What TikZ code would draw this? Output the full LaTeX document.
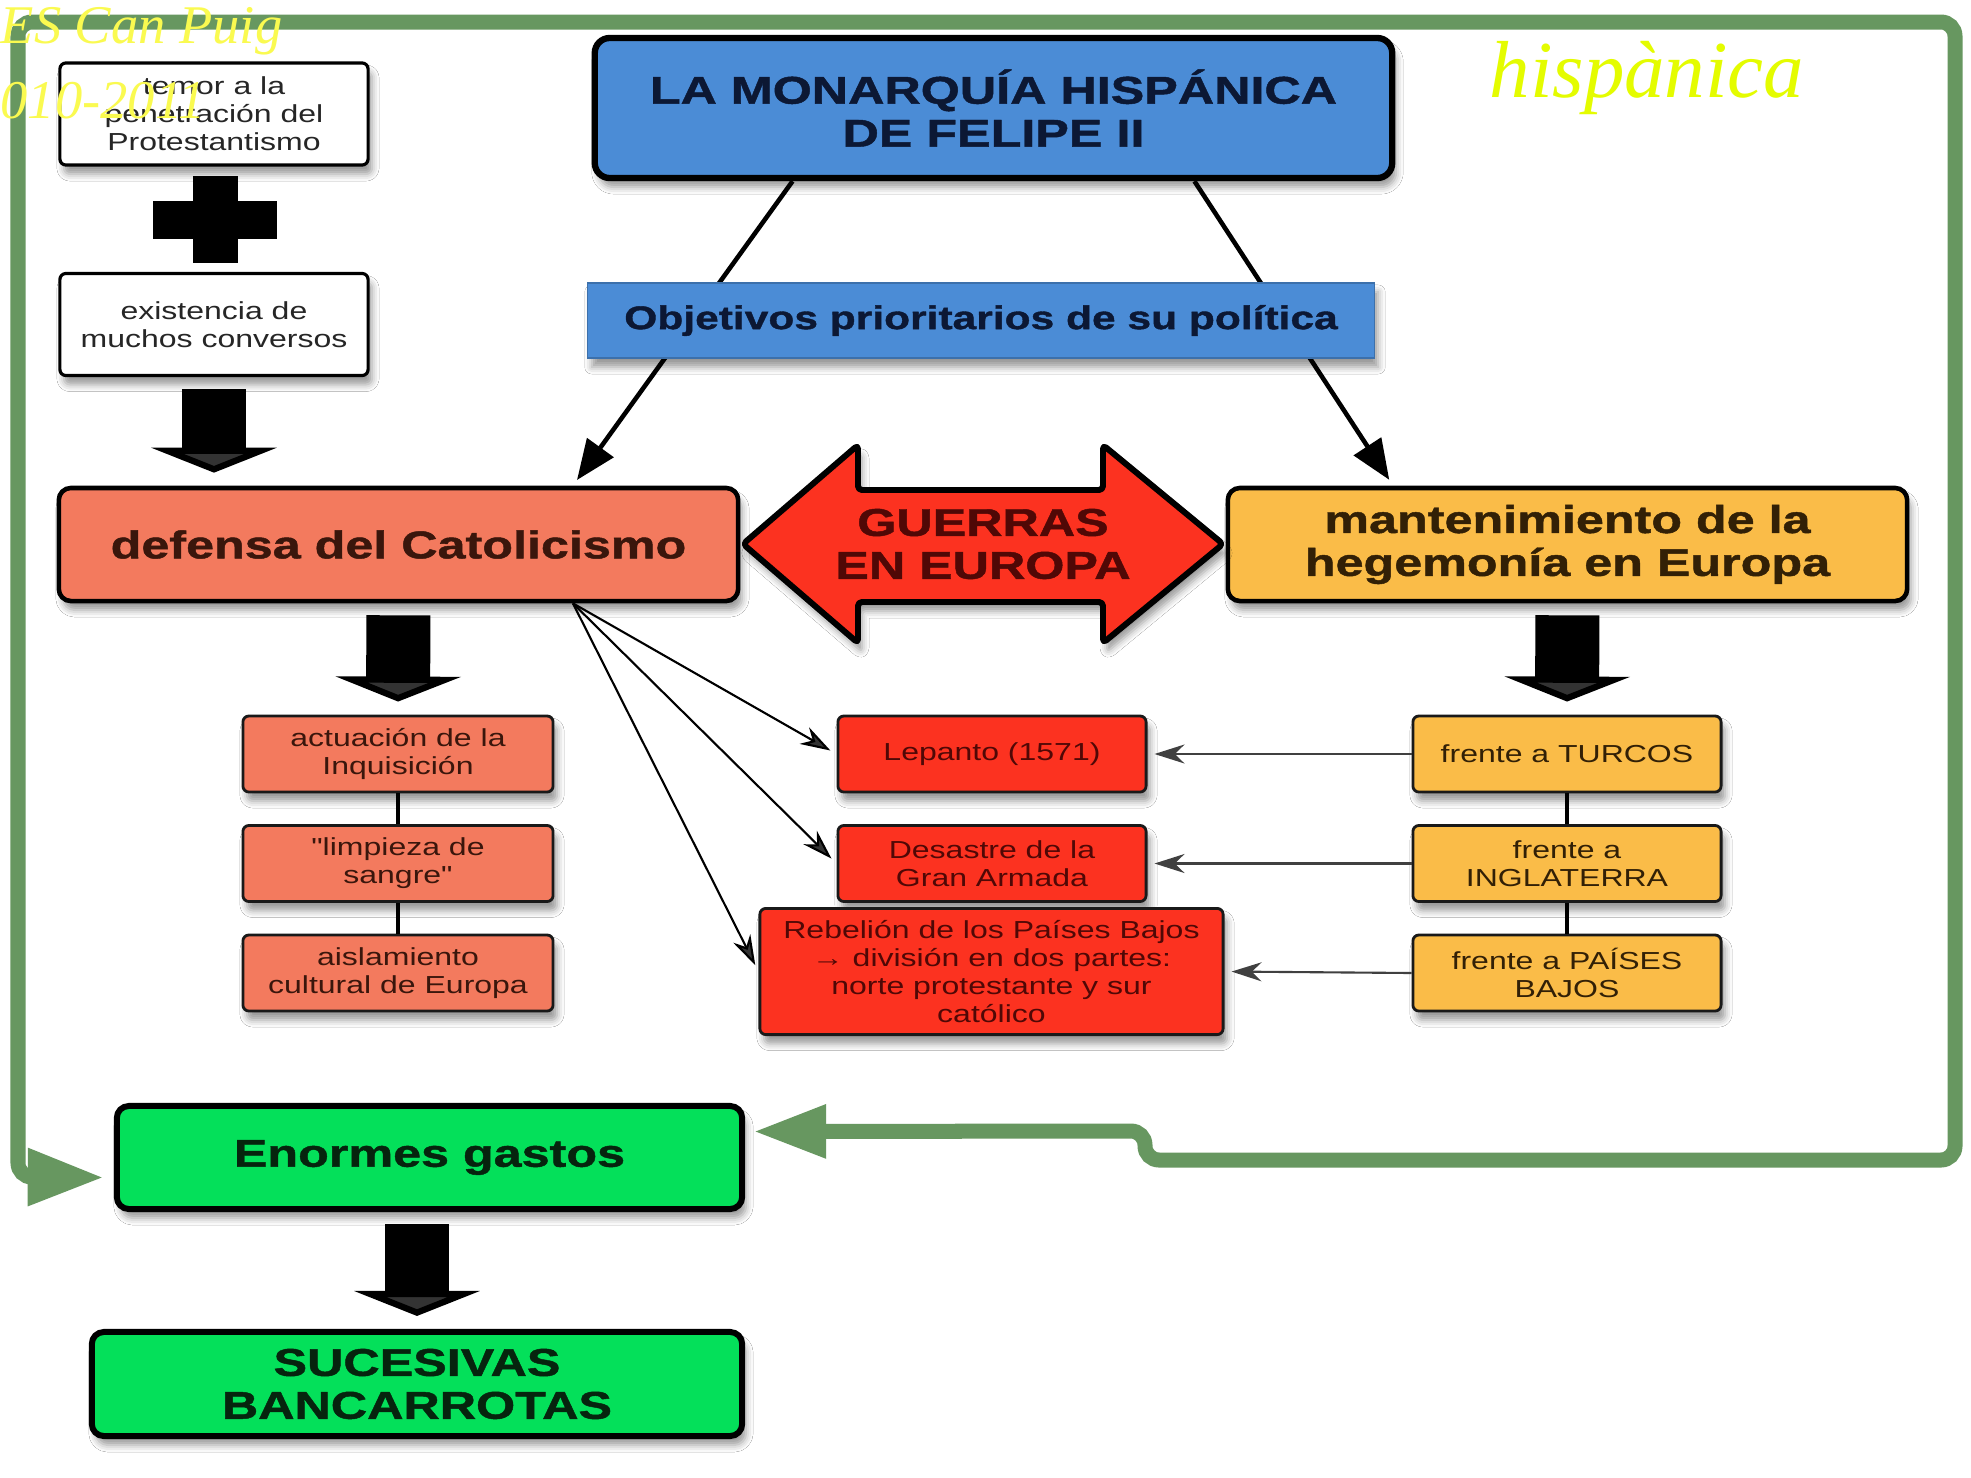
\documentclass[tikz,border=0pt]{standalone}
\usepackage{fontspec}
\newfontfamily\wideSans[FakeStretch=1.3, BoldFeatures={FakeBold=1.2}]{Liberation Sans}
\newfontfamily\stampSerif{Liberation Serif}
\usetikzlibrary{arrows.meta, calc, shadows.blur}
\tikzstyle{canvas} = [x = 0.01cm, y = -0.01cm]
\definecolor{loopGreen}{RGB}{103,151,96}
\definecolor{titleBlue}{RGB}{75,140,214}
\definecolor{salmonFill}{RGB}{243,122,94}
\definecolor{warRed}{RGB}{252,50,32}
\definecolor{hegemonyOrange}{RGB}{250,188,72}
\definecolor{costGreen}{RGB}{4,224,90}
\definecolor{stampYellow}{RGB}{250,250,80}
\definecolor{stampLime}{RGB}{228,252,0}
\definecolor{navyText}{RGB}{12,24,52}
\definecolor{maroonText}{RGB}{80,8,6}
\definecolor{brownText}{RGB}{58,22,12}
\definecolor{amberText}{RGB}{50,32,6}
\definecolor{greenText}{RGB}{6,36,14}
\tikzstyle{boxShadow} = [blur shadow={shadow xshift=0.4mm, shadow yshift=-0.9mm, shadow blur radius=0.7mm, shadow opacity=40}]
\tikzstyle{smallText} = [font=\wideSans\fontsize{7}{8}\selectfont, align=center]
\tikzstyle{bigText} = [font=\wideSans\bfseries\fontsize{11}{12.2}\selectfont, align=center]
\tikzstyle{noteBox} = [smallText, text=black!85, draw=black, line width=0.9pt, fill=white, rounded corners=0.6mm, minimum width=3.08cm, minimum height=1.02cm, boxShadow]
\tikzstyle{listBox} = [smallText, draw=black!90, line width=0.8pt, rounded corners=0.6mm, minimum width=3.1cm, minimum height=0.76cm, boxShadow]
\tikzstyle{mainBox} = [bigText, draw=black, line width=1.3pt, rounded corners=1.2mm, minimum width=6.79cm, minimum height=1.13cm, boxShadow]
\tikzstyle{titleBox} = [bigText, text=navyText, fill=titleBlue, draw=black, line width=1.8pt, rounded corners=1.5mm, minimum width=7.97cm, minimum height=1.4cm, boxShadow]
\tikzstyle{objectiveBox} = [font=\wideSans\bfseries\fontsize{9.3}{11}\selectfont, text=navyText, fill=titleBlue, draw=titleBlue!80!black, line width=0.4pt, minimum width=7.86cm, minimum height=0.75cm, boxShadow]
\tikzstyle{costBox} = [bigText, text=greenText, fill=costGreen, draw=black, line width=1.7pt, rounded corners=1.2mm, boxShadow]
\tikzstyle{warArrow} = [fill=warRed, draw=black, line width=1.7pt, rounded corners=0.4mm, line join=round, boxShadow]
\tikzstyle{blockArrow} = [line width=6.4mm, -{Triangle[length=2.5mm, width=12.5mm]}, shorten <= 1.2mm, shorten >= 1.3mm]
\tikzstyle{mainArrow} = [line width=1.3pt, -{Triangle[length=4mm, width=3.2mm]}, shorten >= 0.7mm]
\tikzstyle{thinArrow} = [line width=0.6pt, -{Stealth[length=3mm, width=1.9mm]}, shorten >= 0.7mm]
\tikzstyle{chainLine} = [line width=0.9pt]
\tikzstyle{loopLine} = [color=loopGreen, line width=1.5mm, rounded corners=1.4mm, {Triangle[length=7.3mm, width=5mm]}-{Triangle[length=7.6mm, width=5.4mm]}]
\tikzstyle{stampText} = [inner sep=0pt, anchor=base west]
\newcommand{\blockArrow}[2]{\draw [blockArrow] (#1) -- (#2);}
\newcommand{\plusSign}[2]{
  \fill (#1 - 22, #2 - 44) rectangle + (45, 87);
  \fill (#1 - 62, #2 - 19) rectangle + (124, 38);
}

\begin{document}
\begin{tikzpicture}[canvas]
  \fill [white] (0,0) rectangle (1971,1478);
  \useasboundingbox (0,0) rectangle (1971,1478);

  \node [noteBox] (temor) at (214,114) {temor a la\\penetración del\\Protestantismo};
  \plusSign{215}{220}
  \node [noteBox] (existencia) at (214,324.5) {existencia de\\muchos conversos};

  \node [titleBox] (monarquia) at (993.5,108) {LA MONARQUÍA HISPÁNICA\\DE FELIPE II};
  \node [mainBox, fill=salmonFill, text=brownText] (defensa) at (398.5,544.5) {defensa del Catolicismo};
  \node [mainBox, fill=hegemonyOrange, text=amberText] (mantenimiento) at (1567.5,544.5) {mantenimiento de la\\hegemonía en Europa};

  \draw [mainArrow] ($(monarquia.south west)!0.25!(monarquia.south east)$) -- ($(defensa.north west)!0.755!(defensa.north east)$);
  \draw [mainArrow] ($(monarquia.south west)!0.75!(monarquia.south east)$) -- ($(mantenimiento.north west)!0.245!(mantenimiento.north east)$);
  \node [objectiveBox] (objetivos) at (981,320.5) {Objetivos prioritarios de su política};

  \filldraw [warArrow] (743,544) -- (858,445) -- (858,490) -- (1103,490) -- (1103,445) -- (1223,544)
    -- (1103,643) -- (1103,602) -- (858,602) -- (858,643) -- cycle;
  \node [bigText, text=maroonText] (guerras) at (983,544) {GUERRAS\\EN EUROPA};

  \node [listBox, fill=salmonFill, text=brownText] (inquisicion) at (398,754) {actuación de la\\Inquisición};
  \node [listBox, fill=salmonFill, text=brownText] (limpieza) at (398,863.5) {"limpieza de\\sangre"};
  \node [listBox, fill=salmonFill, text=brownText] (aislamiento) at (398,973) {aislamiento\\cultural de Europa};

  \node [listBox, fill=warRed, text=maroonText, minimum width=3.08cm] (lepanto) at (992,754) {Lepanto (1571)};
  \node [listBox, fill=warRed, text=maroonText, minimum width=3.08cm] (armada) at (992,863.5) {Desastre de la\\Gran Armada};
  \node [listBox, fill=warRed, text=maroonText, minimum width=4.63cm, minimum height=1.23cm] (rebelion) at (991.5,971.5) {Rebelión de los Países Bajos\\→ división en dos partes:\\norte protestante y sur\\católico};

  \node [listBox, fill=hegemonyOrange, text=amberText, minimum width=3.08cm] (turcos) at (1567,754) {frente a TURCOS};
  \node [listBox, fill=hegemonyOrange, text=amberText, minimum width=3.08cm] (inglaterra) at (1567,863.5) {frente a\\INGLATERRA};
  \node [listBox, fill=hegemonyOrange, text=amberText, minimum width=3.08cm] (paises) at (1567,973) {frente a PAÍSES\\BAJOS};

  \node [costBox, minimum width=6.25cm, minimum height=1.03cm] (enormes) at (429.5,1157.5) {Enormes gastos};
  \node [costBox, minimum width=6.5cm, minimum height=1.04cm] (sucesivas) at (417,1384) {SUCESIVAS\\BANCARROTAS};

  \blockArrow{existencia.south}{existencia.south |- defensa.north}
  \blockArrow{defensa.south}{inquisicion.north}
  \blockArrow{mantenimiento.south}{turcos.north}
  \blockArrow{sucesivas.north |- enormes.south}{sucesivas.north}

  \foreach \upper/\lower in {inquisicion/limpieza, limpieza/aislamiento, turcos/inglaterra, inglaterra/paises}
    \draw [chainLine] (\upper) -- (\lower);

  \coordinate (fanStart) at ($(defensa.south west)!0.755!(defensa.south east)$);
  \foreach \target in {lepanto, armada, rebelion}
    \draw [thinArrow] (fanStart) -- (\target.west);
  \foreach \from/\to in {turcos/lepanto, inglaterra/armada, paises/rebelion}
    \draw [thinArrow, black!75] (\from.west) -- (\to.east);

  \draw [loopLine] ($(enormes.east)+(8,-26)$) -- (1145,1131) -- (1145,1160) -- (1955,1160)
    -- (1955,22) -- (18,22) -- (18,1177) -- ($(enormes.west)+(-10,20)$);

  \node [stampText, text=stampYellow, font=\stampSerif\itshape\fontsize{15.5}{15.5}\selectfont] (schoolStamp) at (0,43) {ES Can Puig};
  \node [stampText, text=stampYellow, font=\stampSerif\itshape\fontsize{15.5}{15.5}\selectfont] (yearStamp) at (0,118) {010-2011};
  \node [stampText, text=stampLime, font=\stampSerif\itshape\fontsize{23}{23}\selectfont] (titleStamp) at (1489,97) {hispànica};
\end{tikzpicture}
\end{document}
